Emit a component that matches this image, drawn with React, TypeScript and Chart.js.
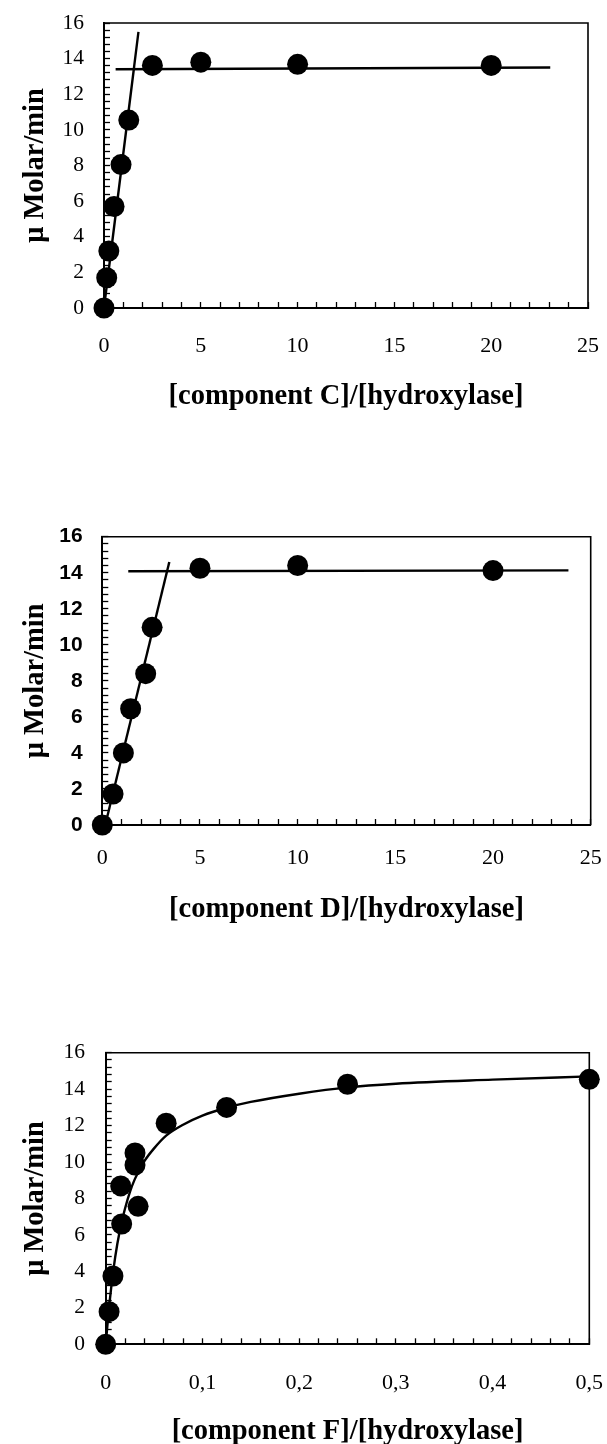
import React, { useEffect, useRef } from "react";
import { Chart, registerables } from "chart.js";

Chart.register(...registerables);

// ---------- Chart 1: component C ----------
const c1PointX = [0, 0.14, 0.25, 0.52, 0.88, 1.28, 2.5, 5, 10, 20];
const c1PointY = [0, 1.7, 3.2, 5.7, 8.05, 10.55, 13.62, 13.8, 13.68, 13.62];
const c1SteepX = [0, 1.78];
const c1SteepY = [0, 15.5];
const c1FlatX = [0.6, 23.05];
const c1FlatY = [13.4, 13.5];

// ---------- Chart 2: component D ----------
const c2PointX = [0, 0.55, 1.08, 1.45, 2.22, 2.55, 5, 10, 20];
const c2PointY = [0, 1.72, 4.0, 6.45, 8.4, 10.97, 14.25, 14.4, 14.12];
const c2SteepX = [0.15, 3.43];
const c2SteepY = [0, 14.6];
const c2FlatX = [1.33, 23.86];
const c2FlatY = [14.08, 14.13];

// ---------- Chart 3: component F ----------
const c3PointX = [0, 0.0035, 0.0075, 0.0155, 0.0165, 0.0303, 0.0303, 0.0335, 0.0625, 0.125, 0.25, 0.5];
const c3PointY = [0, 1.79, 3.75, 8.69, 6.6, 10.5, 9.84, 7.57, 12.13, 13.0, 14.27, 14.54];
const c3CurveX = [0, 0.004, 0.008, 0.012, 0.0165, 0.02, 0.025, 0.03, 0.04, 0.05, 0.0625, 0.08, 0.1, 0.125, 0.15, 0.2, 0.25, 0.3, 0.4, 0.5];
const c3CurveY = [0, 2.3, 4.1, 5.5, 6.7, 7.45, 8.35, 9.05, 10.05, 10.75, 11.45, 12.05, 12.55, 12.98, 13.3, 13.75, 14.1, 14.3, 14.52, 14.7];

// ---------- Axis / text ----------
const yTitle = "\u03bc Molar/min";
const xTitles = ["[component C]/[hydroxylase]", "[component D]/[hydroxylase]", "[component F]/[hydroxylase]"];
const yMin = 0;
const yMax = 16;
const yMinorStep = 0.4;
const yLabelEvery = 2;
const xMaxCD = 25;
const xMinorCD = 1;
const xLabelEveryCD = 5;
const xMaxF = 0.5;
const xMinorF = 0.02;
const xLabelEveryF = 0.1;

const isMultiple = (v: number, m: number) => Math.abs(v / m - Math.round(v / m)) < 1e-6;

const framePlugin = {
  id: "frame",
  beforeDatasetsDraw(chart: any) {
    const { ctx, chartArea: a } = chart;
    ctx.save();
    ctx.strokeStyle = "#000";
    ctx.lineWidth = 1.6;
    ctx.beginPath();
    ctx.moveTo(a.left, a.top);
    ctx.lineTo(a.right, a.top);
    ctx.lineTo(a.right, a.bottom);
    ctx.stroke();
    ctx.restore();
  },
};

const toPts = (xs: number[], ys: number[]) => xs.map((x, i) => ({ x, y: ys[i] }));

type Spec = {
  top: number;
  height: number;
  padTop: number;
  padRight: number;
  yW: number;
  xH: number;
  xMax: number;
  xStep: number;
  xLabel: (v: number) => string;
  xLabelPad: number;
  xTitle: string;
  xTitlePad: number;
  yTitlePad: number;
  yLabelPad: number;
  yFont: any;
  points: { x: number; y: number }[];
  lines: { pts: { x: number; y: number }[]; smooth: boolean }[];
};

const titleFont = { family: "'Liberation Serif', 'Times New Roman', serif", size: 28.5, weight: "bold", lineHeight: 1.2 };

function buildConfig(s: Spec): any {
  const lineSets = s.lines.map((l) => ({
    data: l.pts,
    showLine: true,
    borderColor: "#000",
    borderWidth: 2.4,
    pointRadius: 0,
    pointHoverRadius: 0,
    clip: false,
    cubicInterpolationMode: l.smooth ? "monotone" : "default",
    tension: 0,
    order: 2,
  }));
  return {
    type: "scatter",
    data: {
      datasets: [
        ...lineSets,
        {
          data: s.points,
          showLine: false,
          pointRadius: 10.5,
          pointHoverRadius: 10.5,
          backgroundColor: "#000",
          borderColor: "#000",
          borderWidth: 0,
          clip: false,
          order: 1,
        },
      ],
    },
    options: {
      responsive: false,
      animation: false,
      events: [],
      layout: { padding: { left: 0, top: s.padTop, right: s.padRight, bottom: 0 } },
      plugins: { legend: { display: false }, tooltip: { enabled: false }, title: { display: false } },
      scales: {
        x: {
          type: "linear",
          position: "bottom",
          min: 0,
          max: s.xMax,
          afterFit: (sc: any) => {
            sc.height = s.xH;
            sc.paddingLeft = 0;
            sc.paddingRight = 0;
            sc.paddingTop = 0;
            sc.paddingBottom = 0;
          },
          ticks: {
            stepSize: s.xStep,
            autoSkip: false,
            maxRotation: 0,
            minRotation: 0,
            color: "#000",
            padding: s.xLabelPad,
            font: { family: "'Liberation Serif', 'Times New Roman', serif", size: 22, lineHeight: 1.2 },
            callback: (v: any) => s.xLabel(Number(v)),
          },
          grid: { drawOnChartArea: false, tickLength: -6, tickColor: "#000", tickWidth: 1.3 },
          border: { display: true, color: "#000", width: 2 },
          title: {
            display: true,
            text: s.xTitle,
            color: "#000",
            font: titleFont,
            padding: { top: 0, bottom: s.xTitlePad },
          },
        },
        y: {
          type: "linear",
          position: "left",
          min: yMin,
          max: yMax,
          afterFit: (sc: any) => {
            sc.width = s.yW;
            sc.paddingLeft = 0;
            sc.paddingRight = 0;
            sc.paddingTop = 0;
            sc.paddingBottom = 0;
          },
          ticks: {
            stepSize: yMinorStep,
            autoSkip: false,
            color: "#000",
            padding: s.yLabelPad,
            font: s.yFont,
            callback: (v: any) => (isMultiple(Number(v), yLabelEvery) ? String(Math.round(Number(v))) : ""),
          },
          grid: { drawOnChartArea: false, tickLength: -6, tickColor: "#000", tickWidth: 1.3 },
          border: { display: true, color: "#000", width: 2 },
          title: {
            display: true,
            text: yTitle,
            color: "#000",
            font: titleFont,
            padding: { top: s.yTitlePad, bottom: 0 },
          },
        },
      },
    },
    plugins: [framePlugin],
  };
}

const serifTick = { family: "'Liberation Serif', 'Times New Roman', serif", size: 21.5, lineHeight: 1.2 };
const sansTick = { family: "'Liberation Sans', Arial, sans-serif", size: 21, weight: "bold", lineHeight: 1.2 };

const labelCD = (v: number) => (isMultiple(v, xLabelEveryCD) ? String(Math.round(v)) : "");
const labelF = (v: number) =>
  isMultiple(v, xLabelEveryF) ? String(Math.round(v * 10) / 10).replace(".", ",") : "";

const specs: Spec[] = [
  {
    top: 0,
    height: 460,
    padTop: 23,
    padRight: 19,
    yW: 104,
    xH: 152,
    xMax: xMaxCD,
    xStep: xMinorCD,
    xLabel: labelCD,
    xLabelPad: 30.8,
    xTitle: xTitles[0],
    xTitlePad: 46,
    yTitlePad: 18.8,
    yLabelPad: 26,
    yFont: serifTick,
    points: toPts(c1PointX, c1PointY),
    lines: [
      { pts: toPts(c1SteepX, c1SteepY), smooth: false },
      { pts: toPts(c1FlatX, c1FlatY), smooth: false },
    ],
  },
  {
    top: 460,
    height: 490,
    padTop: 76.7,
    padRight: 16.3,
    yW: 102.3,
    xH: 125,
    xMax: xMaxCD,
    xStep: xMinorCD,
    xLabel: labelCD,
    xLabelPad: 25.8,
    xTitle: xTitles[1],
    xTitlePad: 23,
    yTitlePad: 18.8,
    yLabelPad: 25.6,
    yFont: sansTick,
    points: toPts(c2PointX, c2PointY),
    lines: [
      { pts: toPts(c2SteepX, c2SteepY), smooth: false },
      { pts: toPts(c2FlatX, c2FlatY), smooth: false },
    ],
  },
  {
    top: 950,
    height: 520,
    padTop: 102.7,
    padRight: 17.7,
    yW: 105.7,
    xH: 125.7,
    xMax: xMaxF,
    xStep: xMinorF,
    xLabel: labelF,
    xLabelPad: 31.8,
    xTitle: xTitles[2],
    xTitlePad: 21.3,
    yTitlePad: 18.8,
    yLabelPad: 26.7,
    yFont: serifTick,
    points: toPts(c3PointX, c3PointY),
    lines: [{ pts: toPts(c3CurveX, c3CurveY), smooth: true }],
  },
];

function Panel({ spec }: { spec: Spec }) {
  const ref = useRef<HTMLCanvasElement | null>(null);
  useEffect(() => {
    if (!ref.current) return;
    const chart = new Chart(ref.current, buildConfig(spec));
    return () => chart.destroy();
  }, [spec]);
  return (
    <canvas
      ref={ref}
      width={607}
      height={spec.height}
      style={{ position: "absolute", left: 0, top: spec.top, width: 607, height: spec.height, display: "block" }}
    />
  );
}

export default function App() {
  return (
    <div
      style={{
        position: "absolute",
        left: 0,
        top: 0,
        width: 607,
        height: 1444,
        overflow: "hidden",
        background: "#fff",
      }}
    >
      {specs.map((s, i) => (
        <Panel key={i} spec={s} />
      ))}
    </div>
  );
}
